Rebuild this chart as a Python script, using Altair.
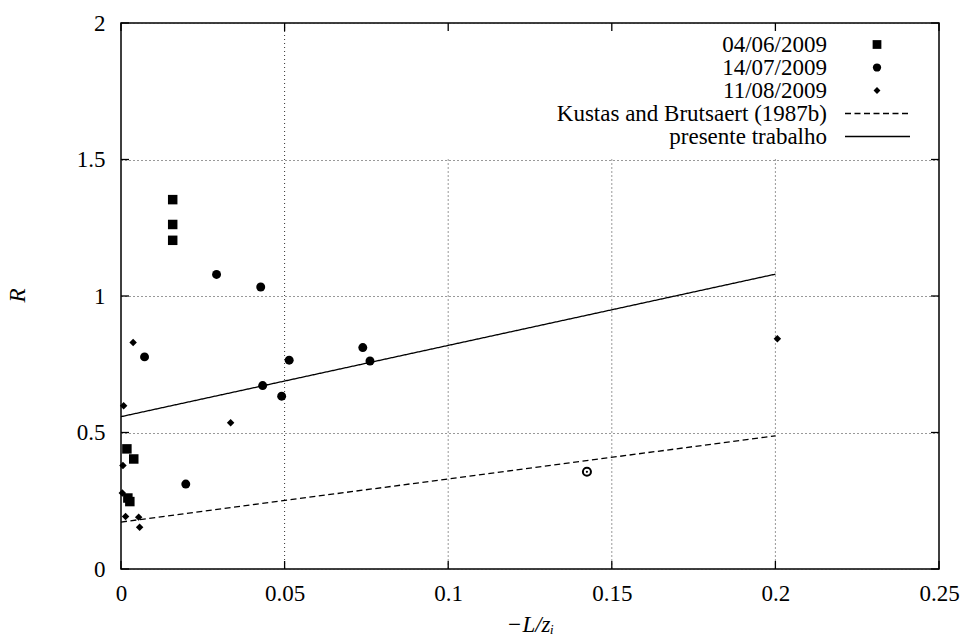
import altair as alt
import pandas as pd

# ---- data ----
series_names = ["04/06/2009", "14/07/2009", "11/08/2009"]
series_shapes = ["square", "circle", "diamond"]
sq_x = [0.0158, 0.0158, 0.0158, 0.0018, 0.0039, 0.0021, 0.0027]
sq_y = [1.353, 1.262, 1.204, 0.440, 0.403, 0.260, 0.247]
ci_x = [0.0292, 0.0427, 0.0072, 0.0514, 0.0433, 0.0491, 0.0198, 0.0739, 0.0761]
ci_y = [1.079, 1.033, 0.777, 0.765, 0.672, 0.633, 0.311, 0.811, 0.762]
di_x = [0.0037, 0.0008, 0.0335, 0.0006, 0.0004, 0.0014, 0.0054, 0.0057, 0.2006]
di_y = [0.830, 0.598, 0.536, 0.379, 0.278, 0.192, 0.190, 0.153, 0.843]

line_names = ["Kustas and Brutsaert (1987b)", "presente trabalho"]
kb_x = [0.0, 0.2]
kb_y = [0.172, 0.488]
pt_x = [0.0, 0.2]
pt_y = [0.558, 1.080]

out_x = [0.1424]
out_y = [0.356]

x_ticks = [0, 0.05, 0.1, 0.15, 0.2, 0.25]
y_ticks = [0, 0.5, 1, 1.5, 2]

# ---- layout ----
W, H = 818, 546
FONT = "Liberation Serif"
FS = 23
TICK = 8
DASH = [6, 3.5]
GRID_DASH = [1, 3]
GRID_COLOR = "#333333"
SIZES = [90, 80, 56]
KEY_LEFT = 0.07      # vertical grid lines right of this stop below the key
KEY_BOTTOM = 1.5
# key (legend) geometry, pixels relative to plot area
KEY_TEXT_X = 706
KEY_SYM_X = 756
KEY_LINE_X0, KEY_LINE_X1 = 724, 789
KEY_ROW0, KEY_ROW_STEP = 21.5, 23

pts = pd.DataFrame({
    "x": sq_x + ci_x + di_x,
    "y": sq_y + ci_y + di_y,
    "series": [series_names[0]] * len(sq_x) + [series_names[1]] * len(ci_x) + [series_names[2]] * len(di_x),
})
ldf = pd.DataFrame({
    "x": kb_x + pt_x,
    "y": kb_y + pt_y,
    "series": [line_names[0]] * len(kb_x) + [line_names[1]] * len(pt_x),
})
odf = pd.DataFrame({"x": out_x, "y": out_y})
xt = pd.DataFrame({"x": x_ticks})
yt = pd.DataFrame({"y": y_ticks})
grid_x = x_ticks[1:-1]
xg = pd.DataFrame({
    "x": grid_x,
    "y": [y_ticks[-1] if v < KEY_LEFT else KEY_BOTTOM for v in grid_x],
    "y0": [y_ticks[0]] * len(grid_x),
})

xs = alt.Scale(domain=[0, 0.25], nice=False, zero=False)
ys = alt.Scale(domain=[0, 2], nice=False, zero=False)
dash_scale = alt.Scale(domain=line_names, range=[DASH, [1, 0]])

x_axis = alt.Axis(values=x_ticks, format="~g", title="−L/zᵢ", grid=False,
                  labelPadding=13, labelFlush=False, titleX=W / 2, titleY=62,
                  titleBaseline="alphabetic", titleFontStyle="italic")
y_axis = alt.Axis(values=y_ticks, format="~g", title="R", grid=True,
                  labelPadding=16, labelFlush=False, titleX=-104, titleY=272,
                  titleAlign="center", titleBaseline="middle", titleFontStyle="italic")

X = alt.X("x:Q", scale=xs, axis=x_axis)
Y = alt.Y("y:Q", scale=ys, axis=y_axis)

# vertical grid lines (those under the key stop at its lower edge)
vgrid = alt.Chart(xg).mark_rule(
    color=GRID_COLOR, strokeDash=GRID_DASH, strokeWidth=1
).encode(x=X, y=Y, y2="y0:Q")

lines = alt.Chart(ldf).mark_line(color="black", strokeWidth=1.3).encode(
    x=X, y=Y,
    strokeDash=alt.StrokeDash("series:N", scale=dash_scale, legend=None),
)


def point_layer(name, shape, size):
    return alt.Chart(pts).transform_filter(
        alt.datum.series == name
    ).mark_point(filled=True, color="black", opacity=1, size=size, shape=shape).encode(
        x=X, y=Y,
    )


point_layers = [point_layer(n, s, z) for n, s, z in zip(series_names, series_shapes, SIZES)]

ring = alt.Chart(odf).mark_point(shape="circle", filled=False, color="black",
                                 strokeWidth=2, size=65, opacity=1).encode(x=X, y=Y)
dot = alt.Chart(odf).mark_point(shape="circle", filled=True, color="black",
                                size=5, opacity=1).encode(x=X, y=Y)

tick_style = dict(color="black", strokeWidth=1.3)
t_bottom = alt.Chart(xt).mark_rule(**tick_style).encode(
    x=X, y=alt.value(H), y2=alt.value(H - TICK))
t_top = alt.Chart(xt).mark_rule(**tick_style).encode(
    x=X, y=alt.value(0), y2=alt.value(TICK))
t_left = alt.Chart(yt).mark_rule(**tick_style).encode(
    y=Y, x=alt.value(0), x2=alt.value(TICK))
t_right = alt.Chart(yt).mark_rule(**tick_style).encode(
    y=Y, x=alt.value(W), x2=alt.value(W - TICK))

# key entries
key_layers = []
for i, (name, shape, size) in enumerate(zip(series_names, series_shapes, SIZES)):
    row_y = KEY_ROW0 + KEY_ROW_STEP * i
    kd = pd.DataFrame({"label": [name]})
    key_layers.append(alt.Chart(kd).mark_text(
        align="right", baseline="middle", font=FONT, fontSize=FS, color="black"
    ).encode(text="label:N", x=alt.value(KEY_TEXT_X), y=alt.value(row_y)))
    key_layers.append(alt.Chart(kd).mark_point(
        filled=True, color="black", opacity=1, shape=shape, size=size * 0.85
    ).encode(x=alt.value(KEY_SYM_X), y=alt.value(row_y)))
for j, name in enumerate(line_names):
    row_y = KEY_ROW0 + KEY_ROW_STEP * (len(series_names) + j)
    kd = pd.DataFrame({"label": [name]})
    key_layers.append(alt.Chart(kd).mark_text(
        align="right", baseline="middle", font=FONT, fontSize=FS, color="black"
    ).encode(text="label:N", x=alt.value(KEY_TEXT_X), y=alt.value(row_y)))
    key_layers.append(alt.Chart(kd).mark_rule(
        color="black", strokeWidth=1.3, strokeDash=dash_scale.range[j]
    ).encode(x=alt.value(KEY_LINE_X0), x2=alt.value(KEY_LINE_X1), y=alt.value(row_y)))

chart = alt.layer(
    vgrid, lines, *point_layers, ring, dot, t_bottom, t_top, t_left, t_right, *key_layers
).properties(
    width=W, height=H, autosize="none",
    padding={"left": 121, "top": 23, "right": 965 - 121 - W, "bottom": 641 - 23 - H},
    background="white",
).configure_view(
    stroke="black", strokeWidth=1.5
).configure_axis(
    domain=False, ticks=False, tickSize=0,
    labelFont=FONT, labelFontSize=FS, labelColor="black",
    titleFont=FONT, titleFontSize=FS, titleColor="black", titleFontWeight="normal",
    gridColor=GRID_COLOR, gridDash=GRID_DASH, gridWidth=1, gridOpacity=1,
).configure_axisX(
    grid=False
)

chart.save("out.html", embed_options={"renderer": "svg", "actions": False})
